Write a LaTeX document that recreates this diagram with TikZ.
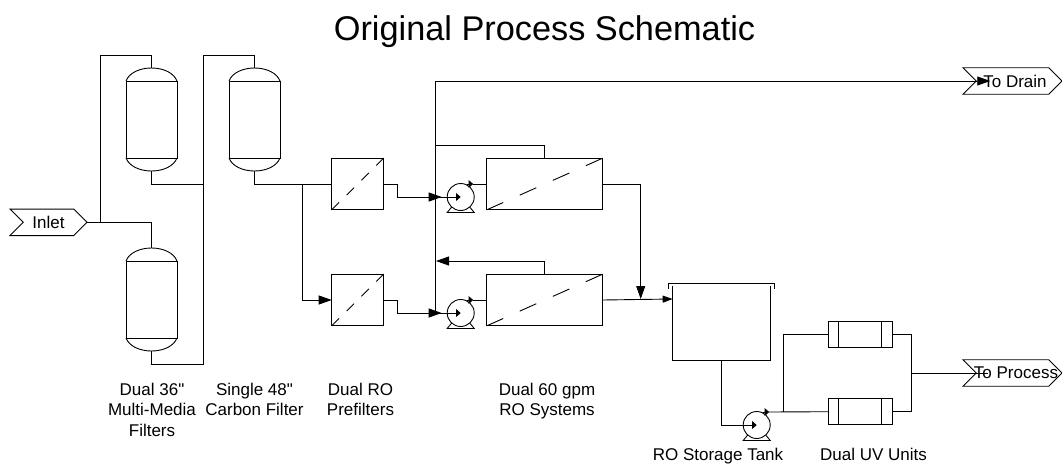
\documentclass[tikz,border=0pt]{standalone}
\usepackage{fontspec}
\defaultfontfeatures[\rmfamily]{}
\setmainfont{Liberation Sans}
\usetikzlibrary{arrows.meta,shapes.symbols}
\tikzset{
    pipe/.style={line width=0.9pt, line join=miter}, % process lines
    bighead/.style={-{Triangle[length=13pt,width=9pt]}}, % large arrow heads
    smallhead/.style={-{Triangle[length=4.5pt,width=7.5pt]}}, % pump arrow heads
    unit/.style={draw, line width=0.9pt, inner sep=0pt, outer sep=0pt}, % any box on the flow sheet
    vessel/.style={unit, minimum width=51pt, minimum height=77pt},
    prefilter/.style={unit, minimum width=52pt, minimum height=51.7pt},
    membrane/.style={unit, minimum width=116pt, minimum height=51.7pt},
    uvunit/.style={unit, minimum width=64.7pt, minimum height=26pt},
    pump/.style={unit, circle, minimum size=27pt},
    tag/.style={unit, signal, signal to=east, signal from=west, signal pointer angle=90, minimum width=99pt, minimum height=26.5pt, font=\fontsize{17}{20}\selectfont},
    caption/.style={align=center, anchor=north, inner sep=0pt, font=\fontsize{17}{20.7}\selectfont}
}
\begin{document}
\begin{tikzpicture}[x=1pt, y=-1pt]
    \useasboundingbox (0,0) rectangle (1062,464);

    \node[inner sep=0pt, anchor=base, font=\fontsize{34.3}{40}\selectfont] (title) at (544.5,40) {Original Process Schematic};

    \node[tag, minimum width=77pt] (inlet) at (48.5,222.3) {Inlet};
    \node[tag] (todrain) at (1012.5,81) {\makebox[0pt]{\hspace{5pt}To Drain}};
    \node[tag] (toprocess) at (1012.5,373) {\makebox[0pt]{\hspace{7pt}To Process}};

    \node[vessel] (mmfa) at (151.5,119.5) {};
    \node[vessel] (mmfb) at (151.5,299.5) {};
    \node[vessel] (cf) at (254.5,119.5) {};
    \foreach \n in {mmfa,mmfb,cf} {
        \coordinate (\n-top) at ([yshift=13pt]\n.north);
        \coordinate (\n-bot) at ([yshift=-13pt]\n.south);
        \draw[pipe] (\n.north west) .. controls +(3,-8) and +(-12,0) .. (\n-top) .. controls +(12,0) and +(-3,-8) .. (\n.north east);
        \draw[pipe] (\n.south west) .. controls +(3,8) and +(-12,0) .. (\n-bot) .. controls +(12,0) and +(-3,8) .. (\n.south east);
    }

    \node[prefilter] (pfa) at (357.7,184) {};
    \node[prefilter] (pfb) at (357.7,300) {};
    \node[membrane] (roa) at (544.7,184) {};
    \node[membrane] (rob) at (544.7,300) {};
    \foreach \n in {pfa,pfb} {\draw[pipe, dash pattern=on 10.5pt off 10.5pt] (\n.south west) -- (\n.north east);}
    \foreach \n in {roa,rob} {\draw[pipe, dash pattern=on 18.1pt off 18.1pt] (\n.south west) -- (\n.north east);}

    \node[pump] (pumpa) at (460.7,197) {};
    \node[pump] (pumpb) at (460.7,313) {};
    \node[pump] (pumpc) at (756.7,425) {};
    \foreach \n in {pumpa,pumpb,pumpc} {
        \coordinate (\n-out) at ([xshift=12.5pt,yshift=13pt]\n.center);
        \coordinate (\n-in) at ([xshift=-19pt]\n.center);
        \draw[pipe] ([xshift=-9pt,yshift=-10pt]\n.center) -- ([xshift=-13.5pt,yshift=-15.5pt]\n.center) -- ([xshift=13.5pt,yshift=-15.5pt]\n.center) -- ([xshift=9pt,yshift=-10pt]\n.center);
        \draw[pipe, smallhead] ([xshift=6pt,yshift=13pt]\n.center) -- (\n-out);
    }

    \node[inner sep=0pt, outer sep=0pt, minimum width=97.3pt, minimum height=74pt] (tank) at (721.3,323) {};
    \draw[pipe] (tank.north west) |- (tank.south east) -- (tank.north east);
    \draw[pipe] ([xshift=-4.5pt,yshift=-3pt]tank.north west) -- ([xshift=-4.5pt,yshift=2.5pt]tank.north west) -- ([xshift=4.5pt,yshift=2.5pt]tank.north east) -- ([xshift=4.5pt,yshift=-3pt]tank.north east);

    \node[uvunit] (uva) at (860.3,334.5) {};
    \node[uvunit] (uvb) at (860.3,411.7) {};
    \foreach \n in {uva,uvb} {
        \draw[pipe] ([xshift=10.5pt]\n.north west) -- ([xshift=10.5pt]\n.south west);
        \draw[pipe] ([xshift=-11pt]\n.north east) -- ([xshift=-11pt]\n.south east);
    }

    % feed side
    \coordinate (split) at (100,222.3);
    \coordinate (feeda) at (151.5,55);
    \coordinate (collect) at (203,184);
    \coordinate (riser) at (203,55);
    \coordinate (feedc) at (254.5,55);
    \coordinate (foot) at (151.5,364.5);
    \coordinate (tee) at (302,184);
    \draw[pipe] (inlet.east) -| (mmfb-top);
    \draw[pipe] (split) |- (feeda) -- (mmfa-top);
    \draw[pipe] (mmfa-bot) |- (collect);
    \draw[pipe] (mmfb-bot) -- (foot) -| (riser) -- (feedc) -- (cf-top);
    \draw[pipe] (cf-bot) |- (pfa.west);
    \draw[pipe, bighead] (tee) |- (pfb.west);

    % to the pumps
    \coordinate (stepa) at (397,184);
    \coordinate (stepb) at (397,300);
    \coordinate (trunk) at (435,81);
    \coordinate (reca) at (435,145.3);
    \coordinate (recb) at (436,261);
    \draw[pipe] (pfa.east) -- (stepa) |- (pumpa-in);
    \draw[pipe] (pfb.east) -- (stepb) |- (pumpb-in);
    \draw[pipe, smallhead] (pumpa-in) -- (pumpa.center);
    \draw[pipe, smallhead] (pumpb-in) -- (pumpb.center);
    \draw[pipe, bighead] ([xshift=-13pt]pumpa-in) -- (pumpa-in);
    \draw[pipe, bighead] ([xshift=-13pt]pumpb-in) -- (pumpb-in);
    \draw[pipe] (pumpa-out) -- (roa.west);
    \draw[pipe] (pumpb-out) -- (rob.west);

    % reject and drain
    \draw[pipe] (trunk |- pumpb.center) -- (trunk);
    \draw[pipe, bighead] (trunk) -- ([xshift=14pt]todrain.west);
    \draw[pipe] (roa.north) |- (reca);
    \draw[pipe, bighead] (rob.north) |- (recb);

    % product side
    \coordinate (joina) at (640.7,184);
    \coordinate (joinb) at (640.7,299);
    \coordinate (tankin) at (672.7,299);
    \draw[pipe] (roa.east) -- (joina);
    \draw[pipe, bighead] (joina) -- (joinb);
    \draw[pipe, -{Triangle[length=10pt,width=7pt]}] (rob.east) -- (tankin);
    \draw[pipe] (tank.south) |- (pumpc-in);
    \draw[pipe, smallhead] (pumpc-in) -- (pumpc.center);

    \coordinate (uvsplit) at (783,411.7);
    \coordinate (uvjoin) at (911.7,373);
    \draw[pipe] (pumpc-out) -- (uvb.west);
    \draw[pipe] (uvsplit) |- (uva.west);
    \draw[pipe] (uva.east) -| (uvjoin);
    \draw[pipe] (uvb.east) -| (uvjoin);
    \draw[pipe] (uvjoin) -- ([xshift=12pt]toprocess.west);

    % captions
    \node[caption] (capa) at (152,382.5) {Dual 36"\\Multi-Media\\Filters};
    \node[caption] (capb) at (254.5,382.5) {Single 48"\\Carbon Filter};
    \node[caption] (capc) at (360.5,382.5) {Dual RO\\Prefilters};
    \node[caption] (capd) at (547,382.5) {Dual 60 gpm\\RO Systems};
    \node[caption] (cape) at (718,447.5) {RO Storage Tank};
    \node[caption] (capf) at (873.5,447.5) {Dual UV Units};
\end{tikzpicture}
\end{document}
